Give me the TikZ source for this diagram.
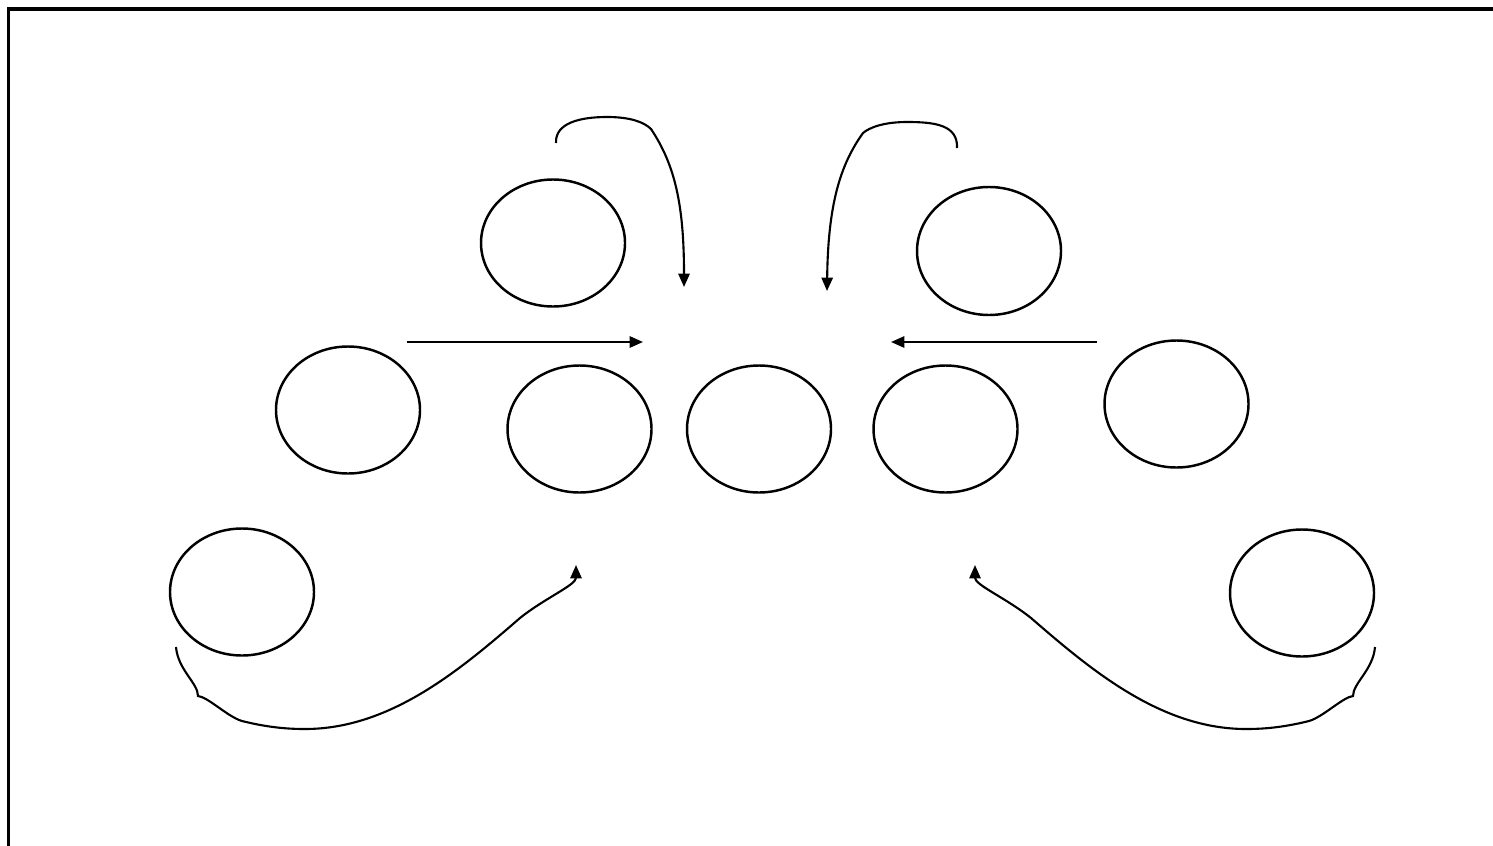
\documentclass[tikz,border=0pt]{standalone}
\usepackage{tikz}
\usetikzlibrary{shapes.geometric, arrows.meta}

\begin{document}
\begin{tikzpicture}[
  bubble/.style={draw, ellipse, line width=0.7pt, minimum width=1.44cm,
    minimum height=1.27cm, inner sep=0pt},
  arr/.style={-{Triangle[length=3.8pt, width=3.2pt]}, line width=0.6pt}
]
  \useasboundingbox (0,0) rectangle (14.93,8.45);
  \clip (0,0) rectangle (14.93,8.45);

  % Frame (only top and left edges show)
  \draw[line width=1pt] (0.085,-1) rectangle (16,8.36);

  % Top row
  \node[bubble] (tl) at (5.53,6.02) {};
  \node[bubble, minimum height=1.28cm] (tr) at (9.89,5.94) {};

  % Middle row
  \node[bubble] (ml) at (3.48,4.35) {};
  \node[bubble] (cl) at (5.795,4.16) {};
  \node[bubble] (c) at (7.59,4.16) {};
  \node[bubble] (cr) at (9.455,4.16) {};
  \node[bubble] (mr) at (11.765,4.41) {};

  % Bottom row
  \node[bubble] (bl) at (2.42,2.53) {};
  \node[bubble] (br) at (13.02,2.52) {};

  % Arrow ends
  \coordinate (hl0) at (4.07,5.03);
  \coordinate (hl1) at (6.43,5.03);
  \coordinate (hr0) at (10.97,5.03);
  \coordinate (hr1) at (8.91,5.03);
  \coordinate (ul0) at (5.56,7.02);
  \coordinate (ul1) at (6.84,5.58);
  \coordinate (ur0) at (9.57,6.97);
  \coordinate (ur1) at (8.27,5.54);
  \coordinate (ll0) at (1.76,1.98);
  \coordinate (ll1) at (5.76,2.80);
  \coordinate (lr0) at (13.75,1.98);
  \coordinate (lr1) at (9.75,2.80);

  % Straight arrows
  \draw[arr] (hl0) -- (hl1);
  \draw[arr] (hr0) -- (hr1);

  % Hooked arrows at the top
  \draw[arr] (ul0) .. controls (5.55,7.22) and (5.80,7.28) .. (6.07,7.28)
    .. controls (6.30,7.28) and (6.44,7.23) .. (6.51,7.16)
    .. controls (6.75,6.80) and (6.84,6.40) .. (ul1);
  \draw[arr] (ur0) .. controls (9.58,7.20) and (9.35,7.23) .. (9.07,7.23)
    .. controls (8.85,7.23) and (8.70,7.18) .. (8.63,7.12)
    .. controls (8.40,6.80) and (8.28,6.40) .. (ur1);

  % Sweeping arrows at the bottom
  \draw[arr] (ll0) .. controls (1.78,1.75) and (1.98,1.62) .. (1.98,1.49)
    .. controls (2.08,1.48) and (2.28,1.28) .. (2.42,1.24)
    .. controls (2.70,1.17) and (2.90,1.16) .. (3.05,1.16)
    .. controls (3.90,1.16) and (4.60,1.75) .. (5.20,2.27)
    .. controls (5.45,2.47) and (5.76,2.60) .. (ll1);
  \draw[arr] (lr0) .. controls (13.73,1.75) and (13.53,1.62) .. (13.53,1.49)
    .. controls (13.43,1.48) and (13.23,1.28) .. (13.09,1.24)
    .. controls (12.81,1.17) and (12.61,1.16) .. (12.46,1.16)
    .. controls (11.61,1.16) and (10.91,1.75) .. (10.31,2.27)
    .. controls (10.06,2.47) and (9.75,2.60) .. (lr1);
\end{tikzpicture}
\end{document}
